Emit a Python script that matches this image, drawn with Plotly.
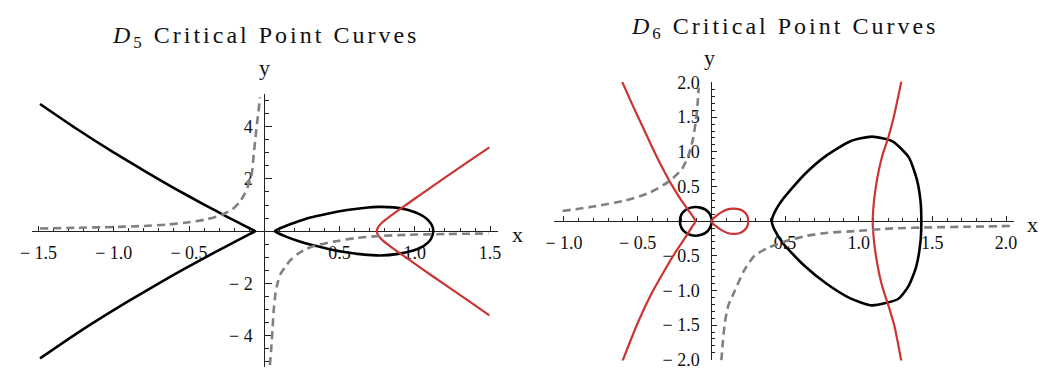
import plotly.graph_objects as go

# ---------------- D5 curves ----------------
d5_black_left_x = [-1.49, -1.25, -1.02, -0.80, -0.60, -0.40, -0.25, -0.12, -0.08, -0.06,
                   -0.08, -0.12, -0.25, -0.40, -0.60, -0.80, -1.02, -1.25, -1.49]
d5_black_left_y = [4.87, 3.93, 3.08, 2.32, 1.65, 1.02, 0.56, 0.175, 0.06, 0.0,
                   -0.06, -0.18, -0.57, -1.03, -1.66, -2.33, -3.09, -3.93, -4.87]

d5_black_loop_x = [0.07, 0.09, 0.13, 0.20, 0.30, 0.42, 0.55, 0.66, 0.76, 0.86, 0.95, 1.03,
                   1.08, 1.108, 1.12, 1.122, 1.118, 1.10, 1.06, 0.99, 0.89, 0.77, 0.65,
                   0.53, 0.42, 0.31, 0.22, 0.14, 0.09, 0.07]
d5_black_loop_y = [0.0, 0.07, 0.17, 0.32, 0.51, 0.67, 0.81, 0.89, 0.93, 0.91, 0.82, 0.65,
                   0.47, 0.28, 0.12, 0.0, -0.14, -0.36, -0.56, -0.74, -0.87, -0.93, -0.89,
                   -0.80, -0.67, -0.52, -0.37, -0.20, -0.07, 0.0]

d5_red_x = [1.495, 1.35, 1.20, 1.05, 0.95, 0.88, 0.83, 0.79, 0.765, 0.752, 0.747,
            0.752, 0.765, 0.79, 0.83, 0.88, 0.95, 1.05, 1.20, 1.35, 1.495]
d5_red_y = [3.21, 2.64, 2.05, 1.45, 1.04, 0.76, 0.55, 0.37, 0.22, 0.10, 0.0,
            -0.10, -0.22, -0.37, -0.55, -0.76, -1.04, -1.45, -2.05, -2.64, -3.22]

d5_gray_left_x = [-1.49, -1.25, -1.0, -0.80, -0.65, -0.50, -0.38, -0.28, -0.21, -0.165,
                  -0.135, -0.11, -0.095, -0.083, -0.07, -0.055, -0.043, -0.028]
d5_gray_left_y = [0.10, 0.13, 0.16, 0.20, 0.25, 0.34, 0.46, 0.63, 0.85, 1.10,
                  1.38, 1.70, 1.95, 2.20, 2.95, 3.78, 4.39, 5.12]

d5_gray_right_x = [0.037, 0.046, 0.054, 0.063, 0.075, 0.09, 0.107, 0.135, 0.175, 0.223,
                   0.28, 0.33, 0.46, 0.60, 0.75, 0.95, 1.20, 1.49]
d5_gray_right_y = [-5.13, -4.50, -3.80, -3.00, -2.35, -1.95, -1.65, -1.40, -1.10, -0.87,
                   -0.68, -0.57, -0.40, -0.27, -0.19, -0.14, -0.11, -0.09]

# ---------------- D6 curves ----------------
d6_black_circle_x = [0.003, -0.01, -0.04, -0.075, -0.105, -0.14, -0.175, -0.202, -0.213,
                     -0.202, -0.175, -0.14, -0.105, -0.075, -0.04, -0.01, 0.003]
d6_black_circle_y = [0.0, 0.10, 0.165, 0.195, 0.205, 0.195, 0.16, 0.10, 0.0,
                     -0.10, -0.165, -0.20, -0.21, -0.20, -0.17, -0.10, 0.0]

d6_black_loop_x = [0.41, 0.43, 0.49, 0.63, 0.78, 0.94, 1.09, 1.23, 1.34, 1.395, 1.42, 1.425,
                   1.42, 1.39, 1.34, 1.27, 1.09, 0.94, 0.78, 0.63, 0.49, 0.43, 0.41]
d6_black_loop_y = [0.0, 0.13, 0.33, 0.67, 0.945, 1.15, 1.22, 1.15, 0.92, 0.60, 0.28, 0.0,
                   -0.28, -0.66, -0.93, -1.12, -1.215, -1.11, -0.90, -0.64, -0.33, -0.13, 0.0]

d6_red_left_x = [-0.605, -0.54, -0.47, -0.40, -0.33, -0.26, -0.20, -0.15, -0.108,
                 -0.13, -0.16, -0.20, -0.25, -0.32, -0.40, -0.50, -0.605]
d6_red_left_y = [2.01, 1.70, 1.38, 1.06, 0.76, 0.49, 0.29, 0.14, 0.0,
                 -0.08, -0.18, -0.31, -0.47, -0.72, -1.02, -1.47, -2.03]

d6_red_loop_x = [0.0, 0.03, 0.07, 0.11, 0.15, 0.19, 0.225, 0.245, 0.25,
                 0.245, 0.225, 0.19, 0.15, 0.11, 0.07, 0.03, 0.0]
d6_red_loop_y = [0.0, 0.07, 0.13, 0.17, 0.18, 0.17, 0.13, 0.07, 0.0,
                 -0.07, -0.13, -0.175, -0.185, -0.17, -0.13, -0.07, 0.0]

d6_red_right_x = [1.29, 1.24, 1.20, 1.165, 1.135, 1.11, 1.10, 1.095,
                  1.10, 1.11, 1.14, 1.165, 1.196, 1.241, 1.29]
d6_red_right_y = [2.02, 1.52, 1.20, 0.98, 0.72, 0.40, 0.20, 0.0,
                  -0.20, -0.40, -0.77, -0.98, -1.18, -1.50, -2.03]

d6_gray_left_x = [-1.01, -0.80, -0.58, -0.42, -0.29, -0.20, -0.155, -0.125, -0.105, -0.093, -0.086]
d6_gray_left_y = [0.147, 0.21, 0.30, 0.41, 0.57, 0.75, 0.95, 1.18, 1.45, 1.70, 1.93]

d6_gray_right_x = [0.068, 0.078, 0.092, 0.115, 0.16, 0.22, 0.293, 0.38, 0.49, 0.65,
                   0.78, 1.0, 1.23, 1.5, 1.75, 2.05]
d6_gray_right_y = [-2.01, -1.75, -1.46, -1.22, -1.0, -0.72, -0.50, -0.39, -0.30, -0.21,
                   -0.17, -0.14, -0.105, -0.09, -0.08, -0.07]

# ---------------- ticks ----------------
d5_xticks = [-1.5, -1.0, -0.5, 0.5, 1.0, 1.5]
d5_xlabels = ["\u2212 1.5", "\u2212 1.0", "\u2212 0.5", "0.5", "1.0", "1.5"]
d5_yticks = [-4, -2, 2, 4]
d5_ylabels = ["\u2212 4", "\u2212 2", "2", "4"]
d6_xticks = [-1.0, -0.5, 0.5, 1.0, 1.5, 2.0]
d6_xlabels = ["\u2212 1.0", "\u2212 0.5", "0.5", "1.0", "1.5", "2.0"]
d6_yticks = [-2.0, -1.5, -1.0, -0.5, 0.5, 1.0, 1.5, 2.0]
d6_ylabels = ["\u2212 2.0", "\u2212 1.5", "\u2212 1.0", "\u2212 0.5", "0.5", "1.0", "1.5", "2.0"]

W, H = 1048, 377
SERIF = "Liberation Serif, Times New Roman, serif"
BLACK, RED, GRAY = "#000000", "#cc3333", "#808080"

# panel frames in pixels (left, right, top, bottom) and their data ranges
D5_BOX, D5_XR, D5_YR = (20, 493, 89, 377), [-1.545, 1.552], [-5.2, 5.27]
D6_BOX, D6_XR, D6_YR = (550, 1016.7, 76.7, 370.1), [-1.067, 2.055], [-2.01, 2.01]


def domains(box):
    return [box[0] / W, box[1] / W], [1 - box[3] / H, 1 - box[2] / H]


def zero_at(dom, rng):
    return dom[0] + (0 - rng[0]) / (rng[1] - rng[0]) * (dom[1] - dom[0])


fig = go.Figure()


def curve(x, y, color, width, xa, ya, dash=None):
    fig.add_trace(go.Scatter(
        x=x, y=y, mode="lines", xaxis=xa, yaxis=ya, hoverinfo="skip", showlegend=False,
        line=dict(color=color, width=width, shape="spline", smoothing=0.6, dash=dash)))


DASH = "8px,5px"
curve(d5_black_left_x, d5_black_left_y, BLACK, 2.6, "x", "y")
curve(d5_black_loop_x, d5_black_loop_y, BLACK, 2.6, "x", "y")
curve(d5_red_x, d5_red_y, RED, 2.2, "x", "y")
curve(d5_gray_left_x, d5_gray_left_y, GRAY, 2.6, "x", "y", DASH)
curve(d5_gray_right_x, d5_gray_right_y, GRAY, 2.6, "x", "y", DASH)

curve(d6_black_circle_x, d6_black_circle_y, BLACK, 2.6, "x2", "y2")
curve(d6_black_loop_x, d6_black_loop_y, BLACK, 2.6, "x2", "y2")
curve(d6_red_left_x, d6_red_left_y, RED, 2.2, "x2", "y2")
curve(d6_red_loop_x, d6_red_loop_y, RED, 2.2, "x2", "y2")
curve(d6_red_right_x, d6_red_right_y, RED, 2.2, "x2", "y2")
curve(d6_gray_left_x, d6_gray_left_y, GRAY, 2.6, "x2", "y2", DASH)
curve(d6_gray_right_x, d6_gray_right_y, GRAY, 2.6, "x2", "y2", DASH)

AX = "#222222"


def common_axis(ticklen, minorlen, minor_dt, vals, texts, standoff):
    return dict(showline=True, linecolor=AX, linewidth=1, showgrid=False, zeroline=False,
                ticks="inside", ticklen=ticklen, tickwidth=1, tickcolor=AX,
                tickvals=vals, ticktext=texts, ticklabelstandoff=standoff,
                ticklabeloverflow="allow",
                tickfont=dict(family=SERIF, size=18, color="#111"),
                minor=dict(ticks="inside", ticklen=minorlen, tickwidth=1, tickcolor=AX,
                           tick0=0, dtick=minor_dt, showgrid=False),
                layer="below traces", fixedrange=True)


def xaxis(box, xr, yr, vals, texts, minor_dt, ticklen, minorlen):
    xd, yd = domains(box)
    ax = dict(domain=xd, range=xr, anchor="free", position=zero_at(yd, yr), side="bottom")
    ax.update(common_axis(ticklen, minorlen, minor_dt, vals, texts, 5))
    return ax


def yaxis(box, xr, yr, vals, texts, minor_dt, ticklen, minorlen):
    xd, yd = domains(box)
    ax = dict(domain=yd, range=yr, anchor="free", position=zero_at(xd, xr), side="left")
    ax.update(common_axis(ticklen, minorlen, minor_dt, vals, texts, 8))
    return ax


def px_x(p):
    return p / W


def px_y(p):
    return 1 - p / H


TITLE_FONT = dict(family=SERIF, size=24, color="#111")
LABEL_FONT = dict(family=SERIF, size=22, color="#111")
annotations = [
    dict(text="<i>D</i><sub>5</sub> Critical Point Curves", x=px_x(256.7), y=px_y(30), font=TITLE_FONT),
    dict(text="<i>D</i><sub>6</sub> Critical Point Curves", x=px_x(783.3), y=px_y(20), font=TITLE_FONT),
    dict(text="y", x=px_x(255.7), y=px_y(62), font=LABEL_FONT),
    dict(text="x", x=px_x(513), y=px_y(237), font=LABEL_FONT),
    dict(text="y", x=px_x(708), y=px_y(51), font=LABEL_FONT),
    dict(text="x", x=px_x(1035), y=px_y(227), font=LABEL_FONT),
]
for a in annotations:
    a.update(xref="paper", yref="paper", showarrow=False, xanchor="center", yanchor="middle")

fig.update_layout(
    width=W, height=H, autosize=False,
    margin=dict(l=0, r=0, t=0, b=0, pad=0),
    paper_bgcolor="white", plot_bgcolor="white",
    xaxis=xaxis(D5_BOX, D5_XR, D5_YR, d5_xticks, d5_xlabels, 0.1, 5, 3),
    yaxis=yaxis(D5_BOX, D5_XR, D5_YR, d5_yticks, d5_ylabels, 0.5, 7, 4),
    xaxis2=xaxis(D6_BOX, D6_XR, D6_YR, d6_xticks, d6_xlabels, 0.1, 5, 3),
    yaxis2=yaxis(D6_BOX, D6_XR, D6_YR, d6_yticks, d6_ylabels, 0.1, 5, 3),
    annotations=annotations,
    showlegend=False,
)

# widen the title lettering the way the typeset headings are spaced
spacing_js = (
    "document.querySelectorAll('.annotation-text').forEach(function(t){"
    "if(t.textContent.indexOf('Critical')>=0){t.style.letterSpacing='3px';}});"
)

fig.write_html("out.html", config={"displayModeBar": False, "staticPlot": True},
               post_script=spacing_js)
